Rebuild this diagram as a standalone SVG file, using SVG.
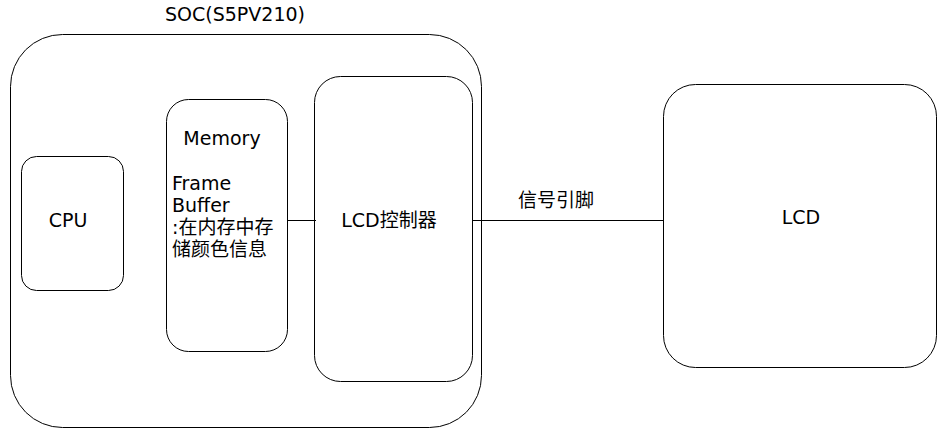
<svg xmlns="http://www.w3.org/2000/svg" width="947" height="435" viewBox="0 0 947 435">
<style>
.box{fill:#fff;stroke:#000;stroke-width:1}
.t{font-family:"DejaVu Sans","Noto Sans CJK SC",sans-serif;font-size:19px;fill:#000}
.c{text-anchor:middle;dominant-baseline:central}
.ln{stroke:#000;stroke-width:1;fill:none}
</style>
<rect width="947" height="435" fill="#fff"/>
<g id="soc">
<rect class="box" x="10.5" y="34.5" width="471" height="393" rx="52" ry="52"/>
<text class="t c" x="235" y="14">SOC(S5PV210)</text>
</g>
<g id="cpu">
<rect class="box" x="21.5" y="156.5" width="102" height="134" rx="15" ry="15"/>
<text class="t c" x="68" y="220">CPU</text>
</g>
<g id="memory">
<rect class="box" x="166.5" y="99.5" width="121" height="252" rx="22" ry="22"/>
<text class="t c" x="222" y="138">Memory</text>
<text class="t" x="172" y="190">Frame</text>
<text class="t" x="172" y="212">Buffer</text>
<text class="t" x="172" y="234">:在内存中存</text>
<text class="t" x="172" y="256">储颜色信息</text>
</g>
<g id="lcdctrl">
<rect class="box" x="314.5" y="76.5" width="158" height="305" rx="26" ry="26"/>
<text class="t c" x="389" y="220">LCD控制器</text>
</g>
<g id="lcd">
<rect class="box" x="663.5" y="84.5" width="273" height="283" rx="32" ry="32"/>
<text class="t c" x="801" y="217">LCD</text>
</g>
<g id="connectors">
<line class="ln" x1="287.5" y1="220.5" x2="316" y2="220.5"/>
<line class="ln" x1="472.5" y1="220.5" x2="663.5" y2="220.5"/>
<text class="t c" x="556" y="200">信号引脚</text>
</g>
</svg>
